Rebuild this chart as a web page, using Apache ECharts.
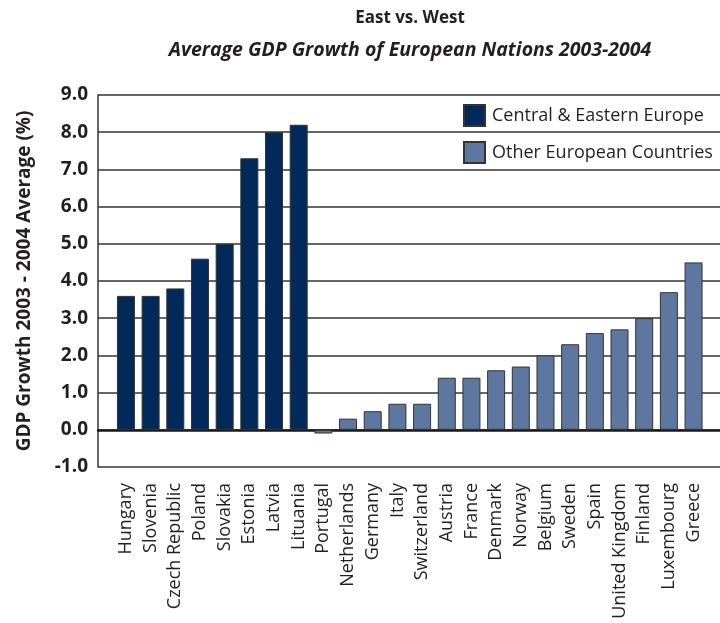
<!DOCTYPE html>
<html>
<head>
<meta charset="utf-8">
<title>East vs. West</title>
<script src="https://cdn.jsdelivr.net/npm/echarts@6/dist/echarts.min.js"></script>
<style>
  html, body { margin: 0; padding: 0; background: #fff; }
  #chart { width: 720px; height: 623px; }
</style>
</head>
<body>
<div id="chart"></div>
<script>
// countries, left to right
const countries = [
  'Hungary', 'Slovenia', 'Czech Republic', 'Poland', 'Slovakia', 'Estonia', 'Latvia', 'Lituania',
  'Portugal', 'Netherlands', 'Germany', 'Italy', 'Switzerland', 'Austria', 'France', 'Denmark',
  'Norway', 'Belgium', 'Sweden', 'Spain', 'United Kingdom', 'Finland', 'Luxembourg', 'Greece'
]
// '-' = no bar for that series
const eastValues = [3.6, 3.6, 3.8, 4.6, 5.0, 7.3, 8.0, 8.2,
  '-', '-', '-', '-', '-', '-', '-', '-', '-', '-', '-', '-', '-', '-', '-', '-']
const otherValues = ['-', '-', '-', '-', '-', '-', '-', '-',
  -0.1, 0.3, 0.5, 0.7, 0.7, 1.4, 1.4, 1.6, 1.7, 2.0, 2.3, 2.6, 2.7, 3.0, 3.7, 4.5]
const yTicks = { min: -1, max: 9, step: 1 }
const seriesNames = ['Central & Eastern Europe', 'Other European Countries']

const font = '"Open Sans", "Noto Sans", sans-serif'
const ink = '#231f20'

const chart = echarts.init(document.getElementById('chart'))

const option = {
  animation: false,
  backgroundColor: '#fff',
  title: {
    text: 'East vs. West',
    subtext: 'Average GDP Growth of European Nations 2003-2004',
    left: 405,
    top: 5,
    textAlign: 'center',
    itemGap: 13,
    textStyle: {
      color: ink,
      fontFamily: font,
      fontSize: 17,
      fontWeight: 'bold'
    },
    subtextStyle: {
      color: ink,
      fontFamily: font,
      fontSize: 19.5,
      fontWeight: 'bold',
      fontStyle: 'italic'
    }
  },
  legend: {
    data: seriesNames,
    orient: 'vertical',
    icon: 'rect',
    left: 458,
    top: 99,
    itemWidth: 21,
    itemHeight: 21,
    itemGap: 14,
    textStyle: {
      color: ink,
      fontFamily: font,
      fontSize: 18,
      padding: [0, 0, 0, 2]
    }
  },
  grid: [
    // frame, gridlines and y labels
    { left: 98, top: 95, bottom: 156, right: -60 },
    // bars and category labels
    { left: 113.6, top: 95, bottom: 156, width: 592.3 }
  ],
  xAxis: [
    {
      gridIndex: 0,
      type: 'category',
      data: [],
      axisTick: { show: false },
      axisLabel: { show: false },
      axisLine: {
        show: true,
        onZero: true,
        lineStyle: { color: '#1a1a1a', width: 2.5 }
      }
    },
    {
      gridIndex: 1,
      type: 'category',
      data: countries,
      axisLine: { show: false },
      axisTick: { show: false },
      axisLabel: {
        interval: 0,
        rotate: 90,
        margin: 16,
        color: ink,
        fontFamily: font,
        fontSize: 18
      }
    }
  ],
  yAxis: [
    {
      gridIndex: 0,
      type: 'value',
      min: yTicks.min,
      max: yTicks.max,
      interval: yTicks.step,
      name: 'GDP Growth 2003 - 2004 Average (%)',
      nameLocation: 'middle',
      nameGap: 64,
      nameTextStyle: {
        color: ink,
        fontFamily: font,
        fontSize: 19,
        fontWeight: 'bold'
      },
      axisLine: {
        show: true,
        lineStyle: { color: '#333', width: 1.5 }
      },
      axisTick: { show: false },
      axisLabel: {
        margin: 10,
        color: ink,
        fontFamily: font,
        fontSize: 19,
        fontWeight: 'bold',
        formatter: (v) => v.toFixed(1)
      },
      splitLine: {
        show: true,
        lineStyle: { color: '#333', width: 1.5 }
      }
    },
    {
      gridIndex: 1,
      type: 'value',
      min: yTicks.min,
      max: yTicks.max,
      interval: yTicks.step,
      show: false,
      splitLine: { show: false }
    }
  ],
  series: [
    {
      name: seriesNames[0],
      type: 'bar',
      xAxisIndex: 1,
      yAxisIndex: 1,
      barWidth: 18,
      barGap: '-100%',
      itemStyle: {
        color: '#012a5b',
        borderColor: '#333',
        borderWidth: 1
      },
      data: eastValues
    },
    {
      name: seriesNames[1],
      type: 'bar',
      xAxisIndex: 1,
      yAxisIndex: 1,
      barWidth: 18,
      barGap: '-100%',
      itemStyle: {
        color: '#5e77a0',
        borderColor: '#333',
        borderWidth: 1
      },
      data: otherValues
    }
  ]
}

chart.setOption(option)
</script>
</body>
</html>
